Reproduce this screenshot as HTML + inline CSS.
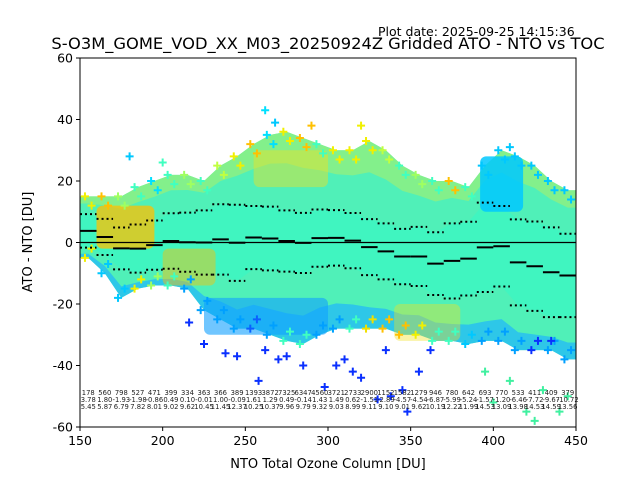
<!DOCTYPE html>
<html><head><meta charset="utf-8">
<style>
body{margin:0;background:#fff;}
svg{display:block;font-family:"DejaVu Sans","Liberation Sans",sans-serif;}
</style></head>
<body>
<svg id="chart" width="640" height="480" viewBox="0 0 640 480">
<text x="378" y="36" font-size="12.5" fill="#000">Plot date: 2025-09-25 14:15:36</text>
<text x="328" y="49" font-size="16.3" text-anchor="middle" fill="#000">S-O3M_GOME_VOD_XX_M03_20250924Z Gridded ATO - NTO vs TOC</text>
<g id="plot"></g>
<text x="328" y="468" font-size="13" text-anchor="middle">NTO Total Ozone Column [DU]</text>
<text transform="translate(32,242) rotate(-90)" font-size="13" text-anchor="middle">ATO - NTO [DU]</text>
</svg>
<script>
const binStarts=[150,160,170,180,190,200,210,220,230,240,250,260,270,280,290,300,310,320,330,340,350,360,370,380,390,400,410,420,430,440];
const counts=[178,560,798,527,471,399,334,363,366,389,1393,3872,7325,6347,4560,3721,2733,2900,1152,1582,1279,946,780,642,693,770,533,411,409,379];
const means=[3.78,1.80,-1.93,-1.98,-0.86,0.49,0.10,-0.01,1.00,-0.09,1.61,1.29,0.49,-0.14,1.43,1.49,0.62,-1.51,-2.89,-4.57,-4.54,-6.87,-5.99,-5.24,-1.57,-1.20,-6.46,-7.72,-9.67,-10.72];
const stds=[5.45,5.87,6.79,7.82,8.01,9.02,9.62,10.45,11.45,12.37,10.25,10.37,9.96,9.79,9.32,9.03,8.99,9.11,9.10,9.01,9.62,10.19,12.22,11.99,14.53,13.09,13.98,14.53,14.59,13.56];
const upperEnv=[15,15,15,18,20,22,22,20,25,28,32,35,36,34,32,30,30,33,30,25,22,20,20,18,25,30,28,25,20,17];
const lowerEnv=[-5,-10,-18,-15,-14,-14,-15,-22,-25,-28,-28,-30,-32,-33,-30,-28,-28,-28,-28,-30,-30,-32,-32,-33,-32,-32,-35,-35,-35,-38];
const blueX=[216,225,238,245,258,262,270,275,298,305,310,320,330,335,338,345,348,355,362,435,285,315];
const blueY=[-26,-33,-36,-37,-45,-35,-38,-37,-47,-40,-38,-44,-51,-35,-50,-48,-55,-42,-35,-32,-40,-42];
const greenX=[420,425,440,445,410,395,430,400];
const greenY=[-55,-58,-55,-50,-45,-42,-48,-52];
const topX=[262,268,180,320,410,200,290];
const topY=[43,39,28,38,31,26,38];
const topC=["#00e0ff","#00c8ff","#00c8ff","#f0f000","#00c8ff","#40ffc0","#ffc000"];
const upperEdgeC=["#f0f000","#ffc000","#a0ff60","#40ffc0","#00e0ff","#40ffc0","#a0ff60","#40ffc0","#c0ff40","#f0f000","#ffc000","#00e0ff","#f0f000","#ffc000","#40ffc0","#f0f000","#f0f000","#f0f000","#c0ff40","#40ffc0","#a0ff60","#40ffc0","#ffc000","#40ffc0","#00c8ff","#00c8ff","#00c8ff","#00c8ff","#00c8ff","#00c8ff"];
const lowerEdgeC=["#f0f000","#00c8ff","#00c8ff","#f0f000","#a0ff60","#40ffc0","#00a0ff","#00a0ff","#00a0ff","#00a0ff","#0a60ff","#00a0ff","#40ffc0","#40ffc0","#00a0ff","#00a0ff","#40ffc0","#f0e000","#ffc000","#ffc000","#f0f000","#40ffc0","#40ffc0","#00c8ff","#00a0ff","#00a0ff","#00a0ff","#0a30ff","#00a0ff","#00a0ff"];
const xTicks=[150,200,250,300,350,400,450];
const yTicks=[-60,-40,-20,0,20,40,60];

const X0=80,X1=576,Y0=58,Y1=427;
const xs=v=>X0+(v-150)/300*(X1-X0);
const ys=v=>Y1-(v+60)/120*(Y1-Y0);
const NS="http://www.w3.org/2000/svg";
const g=document.getElementById('plot');
function mk(t,a,p){const e=document.createElementNS(NS,t);for(const k in a)e.setAttribute(k,a[k]);(p||g).appendChild(e);return e;}

function band(top,bot,color,name,op){
  let pts=[xs(150)+','+ys(top[0])];
  binStarts.forEach((b,i)=>{pts.push(xs(b+5)+','+ys(top[i]));});
  pts.push(xs(450)+','+ys(top[top.length-1]));
  pts.push(xs(450)+','+ys(bot[bot.length-1]));
  for(let i=binStarts.length-1;i>=0;i--){pts.push(xs(binStarts[i]+5)+','+ys(bot[i]));}
  pts.push(xs(150)+','+ys(bot[0]));
  const p=mk('polygon',{points:pts.join(' '),fill:color,opacity:op||1});
  
  
}
band(upperEnv,lowerEnv,"#50f0b8","scatter-outer-cloud");
band(lowerEnv.map((v,i)=>(v*0.6+(means[i]-stds[i])*0.4)),lowerEnv,"#28c0f0","scatter-lower-cloud",0.85);
band(upperEnv,upperEnv.map((v,i)=>(v*0.6+(means[i]+stds[i])*0.4)),"#90f080","scatter-upper-cloud",0.8);
band(means.map((m,i)=>m+stds[i]),means.map((m,i)=>m-stds[i]),"#40f5c0","scatter-core-cloud");

function patch(x1,x2,y1,y2,c,name,op){const r=mk('rect',{x:xs(x1),y:ys(y2),width:xs(x2)-xs(x1),height:ys(y1)-ys(y2),fill:c,opacity:op,rx:6});
}
patch(160,195,-2,12,"#ffc000","orange-patch-left",0.75);
patch(200,232,-14,-2,"#ffc000","orange-patch-mid",0.45);
patch(392,418,10,28,"#00c8ff","cyan-patch-right",0.85);
patch(255,300,18,30,"#f0e020","yellow-patch-top",0.45);
patch(225,300,-30,-18,"#10a0ff","blue-patch-low",0.6);
patch(340,380,-32,-20,"#f0e020","yellow-patch-low",0.4);

function plus(x,y,c,name){
  const px=xs(x),py=ys(y);
  const e=mk('path',{d:`M${px-4},${py}H${px+4}M${px},${py-4}V${py+4}`,stroke:c,'stroke-width':2});
  
}
binStarts.forEach((b,i)=>{plus(b+3,upperEnv[i],upperEdgeC[i],"edge-point-upper");plus(b+7,upperEnv[i]-3,upperEdgeC[i],"edge-point-upper");
  plus(b+3,lowerEnv[i],lowerEdgeC[i],"edge-point-lower");plus(b+7,lowerEnv[i]+3,lowerEdgeC[i],"edge-point-lower");});
blueX.forEach((x,i)=>plus(x,blueY[i],"#0a30ff","outlier-blue"));
greenX.forEach((x,i)=>plus(x,greenY[i],"#40f0a0","outlier-green"));
topX.forEach((x,i)=>plus(x,topY[i],topC[i],"outlier-top"));

const z=mk('line',{x1:X0,x2:X1,y1:ys(0),y2:ys(0),stroke:"#000",'stroke-width':1.2});


binStarts.forEach((b,i)=>{
  const m=mk('line',{x1:xs(b),x2:xs(b+10),y1:ys(means[i]),y2:ys(means[i]),stroke:"#000",'stroke-width':2});
  
  [means[i]+stds[i],means[i]-stds[i]].forEach(v=>{
    const d=mk('line',{x1:xs(b),x2:xs(b+10),y1:ys(v),y2:ys(v),stroke:"#000",'stroke-width':2,'stroke-dasharray':'2,3'});
    
  });
  const cx=xs(b+5);
  [[counts[i],395],[means[i].toFixed(2),402],[stds[i].toFixed(2),409]].forEach(([t,y])=>{
    const tx=mk('text',{x:cx,y:y,'font-size':6.8,'text-anchor':'middle',fill:'#222'});
    tx.textContent=t;
    
  });
});

const fr=mk('rect',{x:X0,y:Y0,width:X1-X0,height:Y1-Y0,fill:'none',stroke:'#000','stroke-width':1});

xTicks.forEach(v=>{
  const l=mk('line',{x1:xs(v),x2:xs(v),y1:Y1,y2:Y1+4,stroke:'#000'});
  
  const t=mk('text',{x:xs(v),y:Y1+18,'font-size':12.5,'text-anchor':'middle'});t.textContent=v;
  
});
yTicks.forEach(v=>{
  const l=mk('line',{x1:X0-4,x2:X0,y1:ys(v),y2:ys(v),stroke:'#000'});
  
  const t=mk('text',{x:X0-7,y:ys(v)+4.5,'font-size':12.5,'text-anchor':'end'});t.textContent=v;
  
});
</script>
</body></html>
